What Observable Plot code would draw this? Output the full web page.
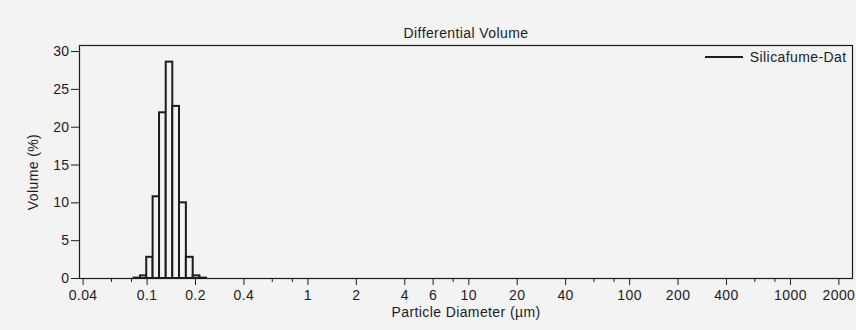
<!DOCTYPE html>
<html>
<head>
<meta charset="utf-8">
<script src="https://cdn.jsdelivr.net/npm/d3@7"></script>
<script src="https://cdn.jsdelivr.net/npm/@observablehq/plot@0.6"></script>
<style>
  html, body { margin: 0; padding: 0; background: #f3f3f4; }
  svg { display: block; }
  svg text { font-family: 'Liberation Sans', Arial, sans-serif !important; font-size: 14px !important; letter-spacing: 0.4px; }
</style>
</head>
<body>
<div id="chart"></div>
<script>
const binEdges = [0.083, 0.091, 0.0995, 0.109, 0.1195, 0.1315, 0.1445, 0.159, 0.1755, 0.1935, 0.213, 0.234];
const volumes  = [0.05, 0.35, 2.8, 10.8, 21.9, 28.6, 22.75, 10.0, 2.8, 0.35, 0.05];
const majorTicks = [0.04, 0.1, 0.2, 0.4, 1, 2, 4, 6, 10, 20, 40, 100, 200, 400, 1000, 2000];
const minorTicks = [0.06, 0.08, 0.6, 0.8, 8, 60, 80, 600, 800];
const yTicks = [0, 5, 10, 15, 20, 25, 30];
const seriesName = "Silicafume-Dat";
const titleText = "Differential Volume";
const xLabel = "Particle Diameter (µm)";
const yLabel = "Volume (%)";

const bins = volumes.map((v, i) => ({x1: binEdges[i], x2: binEdges[i + 1], v}));

const ink = "#1c1c1c";

const chart = Plot.plot({
  width: 856,
  height: 330,
  marginLeft: 79,
  marginRight: 4,
  marginTop: 45,
  marginBottom: 52,
  style: {background: "#f3f3f4", color: ink},
  x: {type: "log", domain: [0.038, 2430]},
  y: {domain: [0, 30.8]},
  marks: [
    Plot.rect(bins, {x1: "x1", x2: "x2", y1: 0, y2: "v", fill: "#f3f3f4", stroke: ink, strokeWidth: 2}),
    Plot.frame({stroke: ink, strokeWidth: 1.2}),
    Plot.axisX({ticks: minorTicks, tickSize: 4, tickFormat: () => "", label: null, stroke: ink}),
    Plot.axisX({ticks: majorTicks, tickSize: 7, tickFormat: () => "", label: null, stroke: ink}),
    Plot.text(majorTicks, {x: d => d, frameAnchor: "bottom", lineAnchor: "middle", dy: 17, text: d => String(d), fill: ink}),
    Plot.text([xLabel], {frameAnchor: "bottom", lineAnchor: "middle", dy: 34, fill: ink}),
    Plot.axisY({ticks: yTicks, tickSize: 8, tickPadding: 2, label: null, stroke: ink, fill: ink}),
    Plot.text([yLabel], {frameAnchor: "left", textAnchor: "middle", lineAnchor: "middle", dx: -46, dy: 10, rotate: -90, fill: ink}),
    Plot.text([titleText], {frameAnchor: "top", lineAnchor: "middle", dy: -12, fill: ink}),
    Plot.text([seriesName], {frameAnchor: "top-right", lineAnchor: "middle", dx: -6, dy: 12, textAnchor: "end", fill: ink})
  ]
});

// legend line sample
const svg = d3.select(chart);
svg.append("line")
  .attr("x1", 705).attr("x2", 743)
  .attr("y1", 57).attr("y2", 57)
  .attr("stroke", ink).attr("stroke-width", 2);

document.getElementById("chart").appendChild(chart);
</script>
</body>
</html>
